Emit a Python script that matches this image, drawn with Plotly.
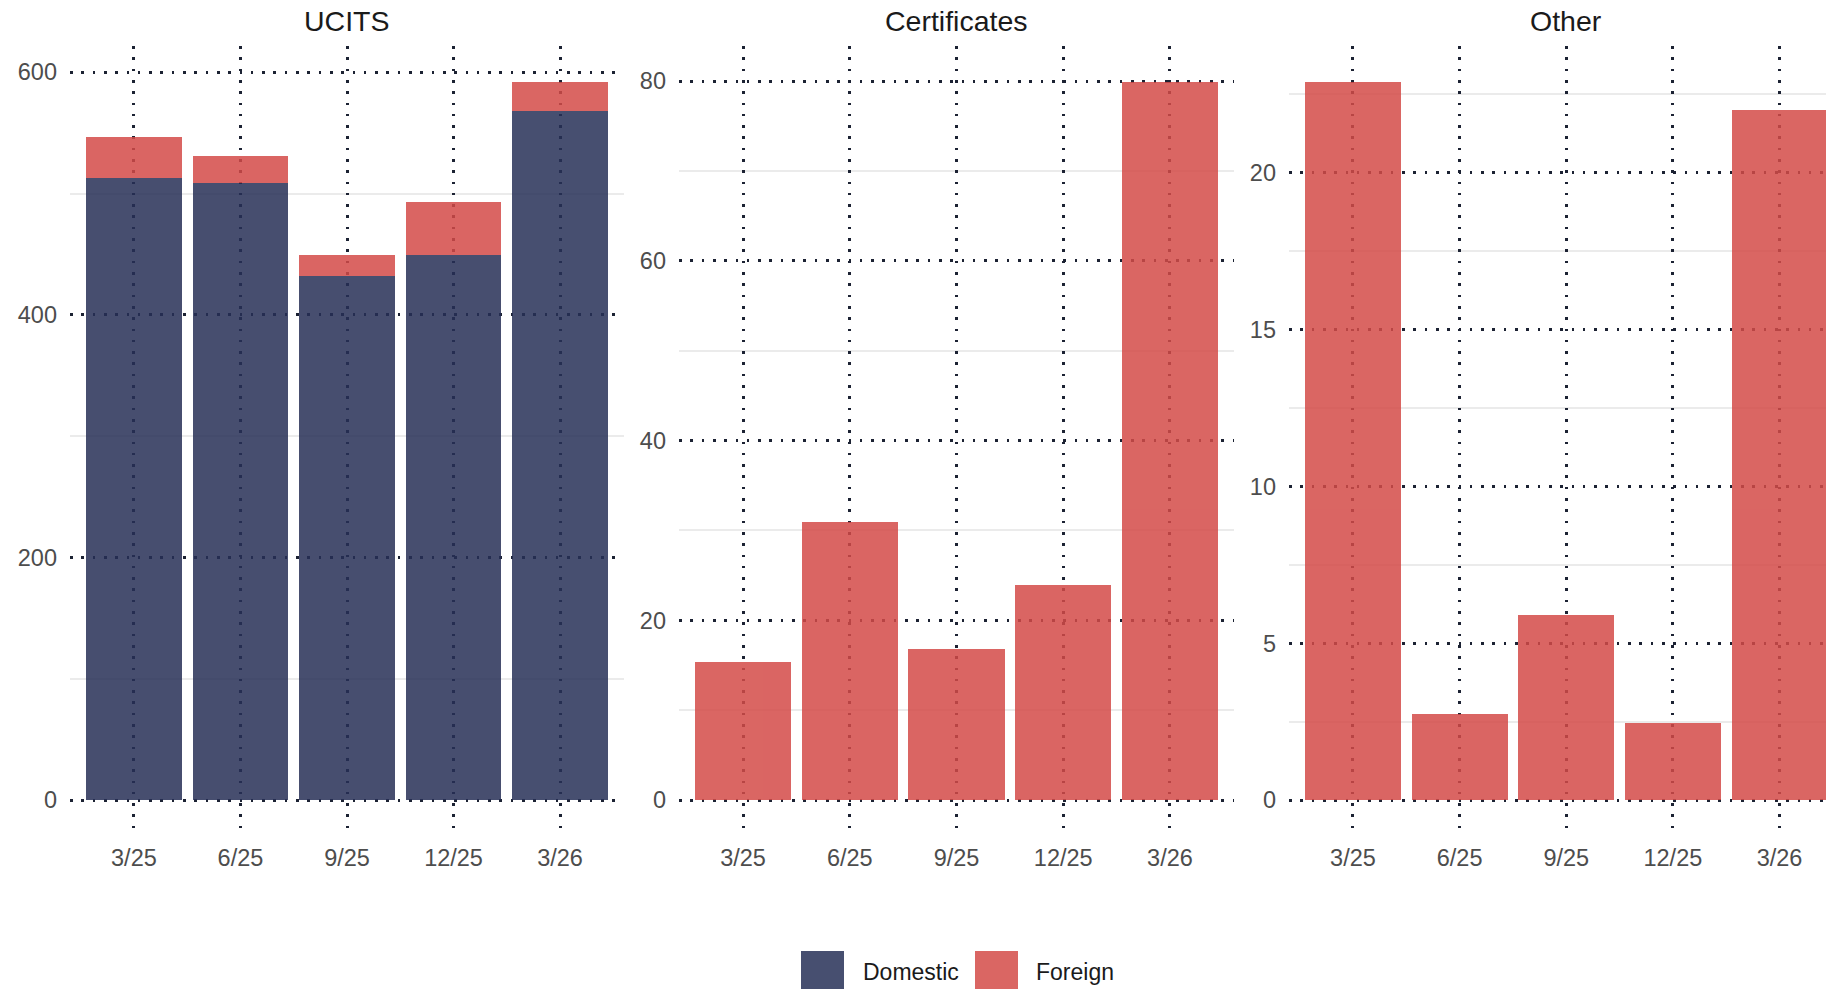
import plotly.graph_objects as go
from plotly.subplots import make_subplots

quarters = ["3/25", "6/25", "9/25", "12/25", "3/26"]

ucits_domestic = [513, 509, 432, 449, 568]
ucits_foreign = [34, 22, 17.5, 44, 24]
certificates_foreign = [15.4, 30.9, 16.8, 23.9, 79.9]
other_foreign = [22.9, 2.75, 5.9, 2.45, 22.0]

panel_titles = ["UCITS", "Certificates", "Other"]
major_ticks = [[0, 200, 400, 600], [0, 20, 40, 60, 80], [0, 5, 10, 15, 20]]
minor_ticks = [[100, 300, 500], [10, 30, 50, 70], [2.5, 7.5, 12.5, 17.5, 22.5]]

NAVY = "rgb(39,48,87)"
RED = "rgb(212,75,72)"
ALPHA = 0.85
DOT = "#1c2233"
MINOR = "#ebebeb"
TICK_TEXT = "#4d4d4d"
FONT = "Liberation Sans, Arial, sans-serif"

# page geometry (px)
W, H = 1856, 1005
TOP, BOTTOM = 46, 836
PANELS = [(70, 624), (679, 1234), (1289, 1843.5)]


def px_x(x):
    return x / W


def px_y(y):
    return (BOTTOM - y) / (BOTTOM - TOP)


fig = make_subplots(rows=1, cols=3)

fig.add_trace(go.Bar(x=quarters, y=ucits_domestic, name="Domestic", marker_color=NAVY,
                     opacity=ALPHA, width=0.9, marker_line_width=0, showlegend=False), row=1, col=1)
fig.add_trace(go.Bar(x=quarters, y=ucits_foreign, name="Foreign", marker_color=RED,
                     opacity=ALPHA, width=0.9, marker_line_width=0, showlegend=False), row=1, col=1)
fig.add_trace(go.Bar(x=quarters, y=certificates_foreign, name="Foreign", marker_color=RED,
                     opacity=ALPHA, width=0.9, marker_line_width=0, showlegend=False), row=1, col=2)
fig.add_trace(go.Bar(x=quarters, y=other_foreign, name="Foreign", marker_color=RED,
                     opacity=ALPHA, width=0.9, marker_line_width=0, showlegend=False), row=1, col=3)

totals = [
    [d + f for d, f in zip(ucits_domestic, ucits_foreign)],
    certificates_foreign,
    other_foreign,
]

for i, (x0, x1) in enumerate(PANELS):
    n = "" if i == 0 else str(i + 1)
    top = max(totals[i])
    fig.layout["xaxis" + n].update(
        domain=[px_x(x0), px_x(x1)], type="category", range=[-0.6, 4.6],
        showgrid=True, gridcolor=DOT, gridwidth=2.6, griddash="2.6px,8.7px",
        zeroline=False, showline=False, ticks="", ticklabelstandoff=5,
        tickfont=dict(size=23.5, color=TICK_TEXT, family=FONT),
    )
    fig.layout["yaxis" + n].update(
        range=[-0.05 * top, 1.05 * top], tickmode="array", tickvals=major_ticks[i],
        showgrid=True, gridcolor=DOT, gridwidth=2.6, griddash="2.6px,8.7px",
        minor=dict(tickmode="array", tickvals=minor_ticks[i], showgrid=True,
                   gridcolor=MINOR, gridwidth=1.5, griddash="solid"),
        zeroline=False, showline=False, ticks="", ticklabelstandoff=12,
        tickfont=dict(size=23.5, color=TICK_TEXT, family=FONT),
    )
    fig.add_annotation(text=panel_titles[i], xref="paper", yref="paper",
                       x=px_x((x0 + x1) / 2), y=px_y(21), xanchor="center", yanchor="middle",
                       showarrow=False, font=dict(size=28.5, color="#1a1a1a", family=FONT))

# legend drawn by hand so the keys can be as large as in the reference
legend_items = [("Domestic", NAVY, 801, 861), ("Foreign", RED, 975, 1034)]
for label, color, key_x, text_x in legend_items:
    fig.add_shape(type="rect", xref="paper", yref="paper",
                  x0=px_x(key_x), x1=px_x(key_x + 43), y0=px_y(951), y1=px_y(994),
                  fillcolor=color, opacity=ALPHA, line_width=0)
    fig.add_annotation(text=label, xref="paper", yref="paper", x=px_x(text_x), y=px_y(972),
                       xanchor="left", yanchor="middle", showarrow=False,
                       font=dict(size=23, color="#1a1a1a", family=FONT))

fig.update_layout(
    width=W, height=H,
    margin=dict(l=0, r=0, t=TOP, b=H - BOTTOM),
    barmode="stack",
    showlegend=False,
    plot_bgcolor="white",
    paper_bgcolor="white",
    font=dict(family=FONT),
)

fig.write_html("out.html", config={"displayModeBar": False},
               post_script="document.body.style.margin='0';document.body.style.overflow='hidden';")
